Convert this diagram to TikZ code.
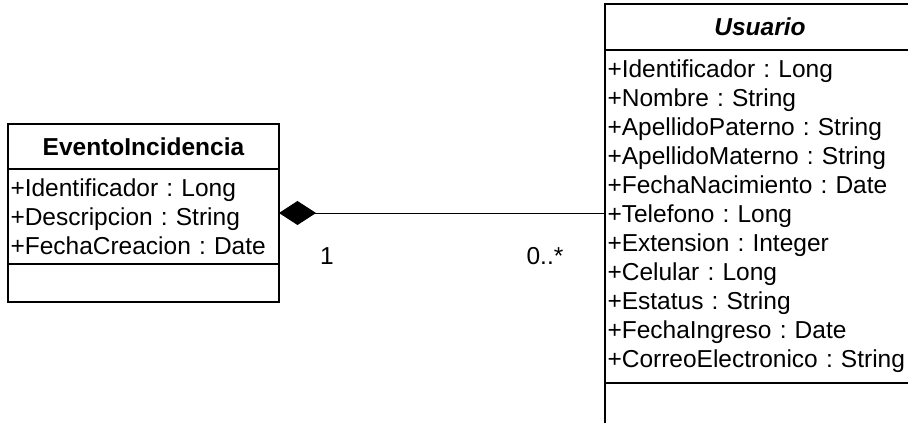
\documentclass[tikz,border=0pt]{standalone}
\usepackage{fontspec}
\setmainfont{Liberation Sans}
\usepackage{tikz}
\usetikzlibrary{arrows.meta,positioning}
\tikzstyle{classname} = [rectangle, draw, line width=1.5pt, outer sep=0pt, minimum height=45pt, text centered, font=\fontsize{24.5}{29}\selectfont\bfseries]
\tikzstyle{classpart} = [rectangle, draw, line width=1.5pt, outer sep=0pt, inner xsep=2.5pt, inner ysep=0pt, align=left, font=\fontsize{24.5}{29}\selectfont]
\tikzstyle{composition} = [line width=1pt, {Diamond[length=37pt,width=24pt]}-]
\tikzstyle{mult} = [font=\fontsize{24.5}{29}\selectfont]

\begin{document}
\frenchspacing
\begin{tikzpicture}[x=1pt,y=-1pt]
\clip (0,0) rectangle (908,423);
% Left class
\node[classname, minimum width=271pt, anchor=north west] (evento) at (8,124) {EventoIncidencia};
\node[classpart, text width=266pt, minimum height=95pt, below=0pt of evento] (eventoattr) {
+Identificador : Long\\
+Descripcion : String\\
+FechaCreacion : Date
};
\node[classpart, text width=266pt, minimum height=38pt, below=0pt of eventoattr] (eventoops) {};

% Right class
\node[classname, minimum width=310pt, minimum height=46pt, anchor=north west] (usuario) at (605,4) {\itshape Usuario};
\node[classpart, text width=305pt, minimum height=333pt, below=0pt of usuario] (usuarioattr) {
+Identificador : Long\\
+Nombre : String\\
+ApellidoPaterno : String\\
+ApellidoMaterno : String\\
+FechaNacimiento : Date\\
+Telefono : Long\\
+Extension : Integer\\
+Celular : Long\\
+Estatus : String\\
+FechaIngreso : Date\\
+CorreoElectronico : String
};
\node[classpart, text width=305pt, minimum height=45pt, below=0pt of usuarioattr] (usuarioops) {};

% Composition
\coordinate (link) at ([yshift=3.5pt]eventoattr.east);
\draw[composition] (link) -- (link -| usuarioattr.west);
\node[mult] (multevento) at (327,256) {1};
\node[mult] (multusuario) at (545,256) {0..*};
\end{tikzpicture}
\end{document}
